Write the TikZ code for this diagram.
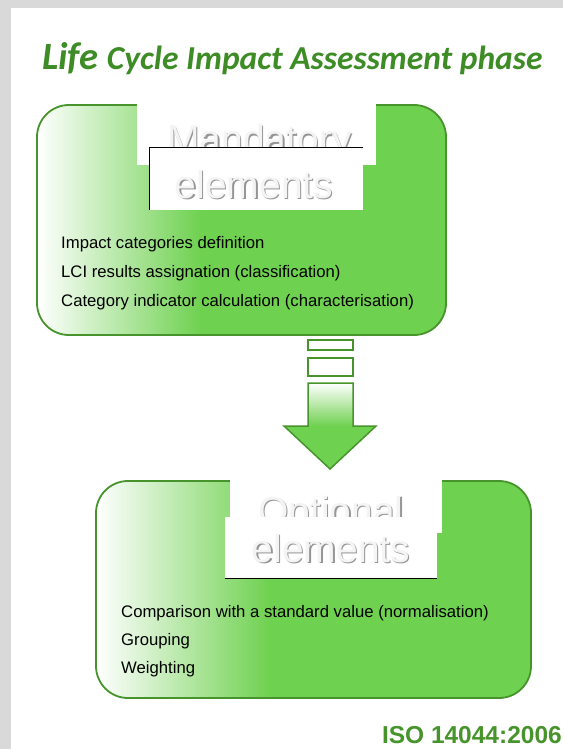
\documentclass[tikz,border=0pt]{standalone}
\usepackage{fontspec}
\setmainfont{Liberation Sans}
\newfontfamily\titlefont{Carlito}
\usetikzlibrary{positioning}

\definecolor{lcagreen}{RGB}{111,209,80}
\definecolor{lcaedge}{RGB}{72,148,44}
\definecolor{lcatitle}{RGB}{62,140,38}
\definecolor{pagegray}{RGB}{217,217,217}
\definecolor{embossfill}{RGB}{244,244,244}
\definecolor{embossshade}{RGB}{150,150,150}

% white on the left, full green from 40% of the width on
\pgfdeclarehorizontalshading{greenfade}{100bp}{color(0bp)=(white); color(25bp)=(white); color(45bp)=(lcagreen); color(100bp)=(lcagreen)}

\tikzset{
  stagebox/.style={draw=lcaedge, line width=1.8pt, rounded corners=32pt, shading=greenfade, inner sep=0pt},
  labelback/.style={fill=white, inner sep=0pt},
  labeltext/.style={font=\fontsize{39}{39}\selectfont, text=embossfill, inner sep=0pt, anchor=base},
  labelshade/.style={font=\fontsize{39}{39}\selectfont, text=embossshade, inner sep=0pt, anchor=base},
  itemtext/.style={font=\fontsize{16.7}{16.7}\selectfont, inner sep=0pt, anchor=base west},
  titletext/.style={anchor=base west, inner sep=0pt, text=lcatitle, font=\titlefont\bfseries\itshape},
  stepbar/.style={draw=lcaedge, fill=white, line width=1.5pt, inner sep=0pt},
}

\begin{document}
\begin{tikzpicture}[x=1pt, y=-1pt]
	\useasboundingbox (0,0) rectangle (563,749);
	\fill[pagegray] (0,0) rectangle (563,749);
	\fill[white] (11,8) rectangle (563,749);

	% title
	\node[titletext] (title1) at (42,70) {\fontsize{38.5}{38.5}\selectfont Life};
	\node[titletext] (title2) at ([xshift=8pt]title1.base east) {\fontsize{33.5}{33.5}\selectfont Cycle Impact Assessment phase};

	% mandatory stage
	\node[stagebox, minimum width=409pt, minimum height=230pt] (mand) at (241.5,220) {};
	\node[labelback, minimum width=239pt, minimum height=63pt] (mandA) at (256.5,133.5) {};
	\node[labelshade] at (260.7,154.2) {Mandatory};
	\node[labeltext] (mandword) at (259.5,153) {Mandatory};
	\node[labelback, minimum width=213pt, minimum height=62pt] (mandB) at (256.5,179) {};
	\draw[line width=0.8pt] (mandB.south west) |- (mandB.north east);
	\node[labelshade] at (255.2,199.2) {elements};
	\node[labeltext] (mandelem) at (254,198) {elements};

	\node[itemtext] (m1) at (61,248) {Impact categories definition};
	\node[itemtext] (m2) at (61,277) {LCI results assignation (classification)};
	\node[itemtext] (m3) at (61,306) {Category indicator calculation (characterisation)};

	% block arrow between the stages
	\node[stepbar, minimum width=45pt, minimum height=10pt] (bar1) at (330.5,345) {};
	\node[stepbar, minimum width=45pt, minimum height=18pt] (bar2) at (330.5,367) {};
	\shade[top color=white, bottom color=lcagreen] (308,383) rectangle (353,426);
	\fill[lcagreen] (284,426) -- (376,426) -- (330,469) -- cycle;
	\draw[lcaedge, line width=1.5pt, line join=miter]
		(308,383) -- (353,383) -- (353,426) -- (376,426) -- (330,469) -- (284,426) -- (308,426) -- cycle;

	% optional stage
	\node[stagebox, minimum width=435pt, minimum height=217pt] (opt) at (313.5,589.5) {};
	\node[labelback, minimum width=212pt, minimum height=55pt] (optA) at (336,505.5) {};
	\node[labelshade] at (332.2,525.2) {Optional};
	\node[labeltext] (optword) at (331,524) {Optional};
	\node[labelback, minimum width=212pt, minimum height=61pt] (optB) at (331,547.5) {};
	\draw[line width=0.8pt] (optB.south west) -- (optB.south east);
	\node[labelshade] at (332.2,563.2) {elements};
	\node[labeltext] (optelem) at (331,562) {elements};

	\node[itemtext] (o1) at (121,617) {Comparison with a standard value (normalisation)};
	\node[itemtext] (o2) at (121,645) {Grouping};
	\node[itemtext] (o3) at (121,673) {Weighting};

	% standard reference
	\node[anchor=base east, inner sep=0pt, text=lcaedge, font=\bfseries\fontsize{24.5}{24.5}\selectfont] (iso) at (562,743) {ISO 14044:2006};
\end{tikzpicture}
\end{document}
